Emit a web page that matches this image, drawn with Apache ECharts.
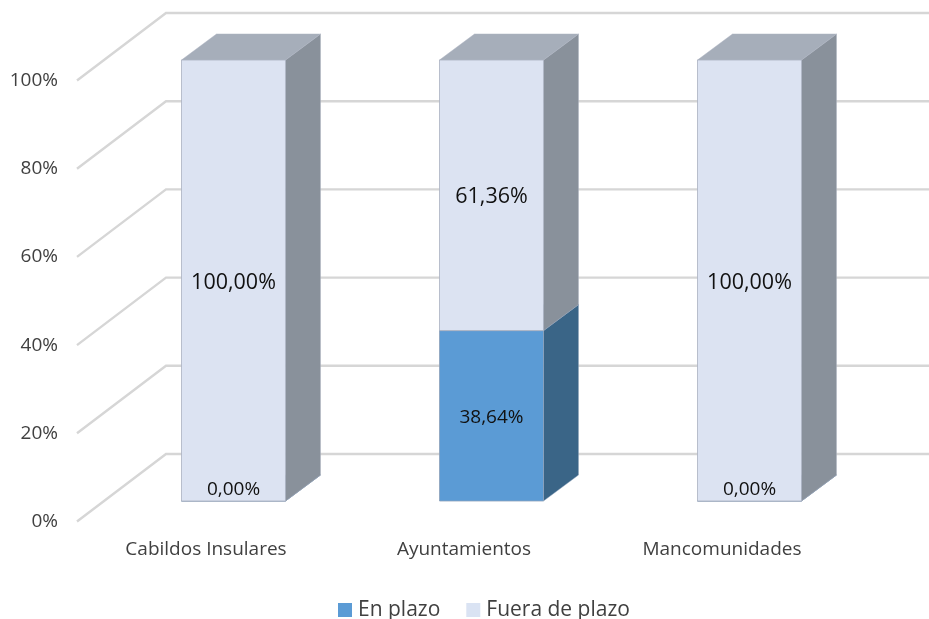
<!DOCTYPE html>
<html><head><meta charset="utf-8">
<style>html,body{margin:0;padding:0;background:#fff}#c{width:929px;height:619px}</style>
<script src="https://cdn.jsdelivr.net/npm/echarts@6/dist/echarts.min.js"></script>
</head><body><div id="c"></div>
<script>
const categories = ['Cabildos Insulares', 'Ayuntamientos', 'Mancomunidades'];
const enPlazo = [0, 38.64, 0];
const fueraDePlazo = [100, 61.36, 100];
const yTicks = [0, 20, 40, 60, 80, 100];

const FONT = '"Open Sans", sans-serif';
const chart = echarts.init(document.getElementById('c'), null, {renderer: 'canvas'});

// oblique projection of the 3D chart
const WALL_DX = 89, WALL_DY = -67.5;   // front of floor -> back wall
const BAR_OX = 27.5, BAR_OY = -20.5;   // front of floor -> bar front face
const BAR_DX = 35, BAR_DY = -26;       // bar depth
const BAR_RATIO = 0.403;

function barRender(front, side, top, edge, labelSize) {
  return function (params, api) {
    const cat = api.value(0), v0 = api.value(1), v1 = api.value(2);
    const band = api.size([1, 0])[0];
    const w = band * BAR_RATIO;
    const c = api.coord([cat, v0]);
    const d = api.coord([cat, v1]);
    const x0 = c[0] - w / 2 + BAR_OX, x1 = x0 + w;
    const yb = c[1] + BAR_OY, yt = d[1] + BAR_OY;
    const val = v1 - v0;
    const children = [
      {type: 'polygon', z2: 1, shape: {points: [[x1, yb], [x1 + BAR_DX, yb + BAR_DY], [x1 + BAR_DX, yt + BAR_DY], [x1, yt]]},
        style: {fill: side, stroke: edge, lineWidth: 0.6}},
      {type: 'polygon', z2: 1, shape: {points: [[x0, yt], [x0 + BAR_DX, yt + BAR_DY], [x1 + BAR_DX, yt + BAR_DY], [x1, yt]]},
        style: {fill: top, stroke: edge, lineWidth: 0.6}},
      {type: 'rect', z2: 2, shape: {x: x0, y: yt, width: w, height: yb - yt},
        style: {fill: front, stroke: edge, lineWidth: 1}}
    ];
    const small = val < 50;
    children.push({type: 'text', z2: 100, style: {
      text: val.toFixed(2).replace('.', ',') + '%',
      x: (x0 + x1) / 2,
      y: val === 0 ? yb - 11 : (yb + yt) / 2 + 2,
      textAlign: 'center', textVerticalAlign: 'middle',
      font: (small ? labelSize : 21.5) + 'px ' + FONT,
      fill: '#111'
    }});
    return {type: 'group', children};
  };
}

function wallRender(params, api) {
  const cs = params.coordSys;
  const y = api.coord([0, api.value(1)])[1];
  const xf = cs.x, xb = cs.x + WALL_DX, yb = y + WALL_DY;
  return {type: 'polyline', shape: {points: [[xf, y], [xb, yb], [xb + cs.width, yb]]},
    style: {fill: null, stroke: '#d6d6d6', lineWidth: 2.4}};
}

const enData = categories.map((c, i) => [i, 0, enPlazo[i]]);
const fueraData = categories.map((c, i) => [i, enPlazo[i], enPlazo[i] + fueraDePlazo[i]]);

chart.setOption({
  animation: false,
  backgroundColor: '#fff',
  textStyle: {fontFamily: FONT},
  grid: {left: 77, top: 80.5, width: 774, height: 441},
  legend: {
    left: 338, top: 599.5, padding: 0, itemWidth: 14, itemHeight: 14, itemGap: 26, icon: 'rect',
    data: ['En plazo', 'Fuera de plazo'],
    textStyle: {fontFamily: FONT, fontSize: 21, color: '#404040', padding: [0, 0, 0, 1]}
  },
  xAxis: {type: 'category', data: categories,
    axisLine: {show: false}, axisTick: {show: false}, splitLine: {show: false},
    axisLabel: {margin: 19, fontFamily: FONT, fontSize: 19, color: '#404040'}},
  yAxis: {type: 'value', min: 0, max: 100, interval: 20,
    axisLine: {show: false}, axisTick: {show: false}, splitLine: {show: false},
    axisLabel: {margin: 19, fontFamily: FONT, fontSize: 19, color: '#404040', padding: [2, 0, 0, 0], formatter: '{value}%'}},
  series: [
    {type: 'custom', name: 'Cuadrícula', silent: true, z: 1, data: yTicks.map(v => [0, v]),
      encode: {x: 0, y: 1}, renderItem: wallRender},
    {type: 'custom', name: 'En plazo', z: 2, itemStyle: {color: '#5B9BD5'}, data: enData,
      encode: {x: 0, y: [1, 2]}, renderItem: barRender('#5B9BD5', '#3A6587', '#3A6587', 'rgba(140,160,185,0.8)', 19)},
    {type: 'custom', name: 'Fuera de plazo', z: 2, itemStyle: {color: '#DAE3F3'}, data: fueraData,
      encode: {x: 0, y: [1, 2]}, renderItem: barRender('#DCE3F2', '#89919B', '#A6AEBA', 'rgba(170,178,192,0.8)', 21.5)}
  ]
});
</script></body></html>
